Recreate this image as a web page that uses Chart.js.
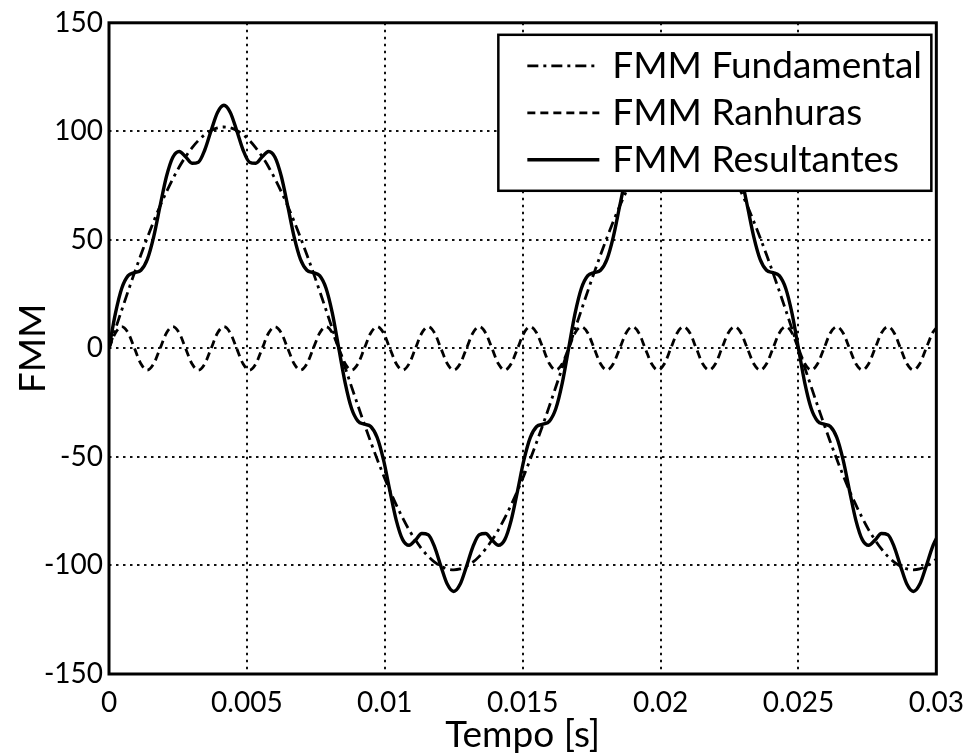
<!DOCTYPE html>
<html>
<head>
<meta charset="utf-8">
<title>FMM</title>
<script src="https://cdn.jsdelivr.net/npm/chart.js@4.4.1/dist/chart.umd.min.js"></script>
<style>
  html, body { margin: 0; padding: 0; background: #fff; }
  #wrap { width: 976px; height: 754px; }
</style>
</head>
<body>
<div id="wrap"><canvas id="fmmChart" width="976" height="754"></canvas></div>
<script>
// tempo [s]
const tempo = [
  0, 0.000231, 0.000463, 0.000694, 0.000926, 0.001157, 0.001389, 0.00162, 0.001852, 0.002083,
  0.002315, 0.002546, 0.002778, 0.003009, 0.003241, 0.003472, 0.003704, 0.003935, 0.004167, 0.004398,
  0.00463, 0.004861, 0.005093, 0.005324, 0.005556, 0.005787, 0.006019, 0.00625, 0.006481, 0.006713,
  0.006944, 0.007176, 0.007407, 0.007639, 0.00787, 0.008102, 0.008333, 0.008565, 0.008796, 0.009028,
  0.009259, 0.009491, 0.009722, 0.009954, 0.010185, 0.010417, 0.010648, 0.01088, 0.011111, 0.011343,
  0.011574, 0.011806, 0.012037, 0.012269, 0.0125, 0.012731, 0.012963, 0.013194, 0.013426, 0.013657,
  0.013889, 0.01412, 0.014352, 0.014583, 0.014815, 0.015046, 0.015278, 0.015509, 0.015741, 0.015972,
  0.016204, 0.016435, 0.016667, 0.016898, 0.01713, 0.017361, 0.017593, 0.017824, 0.018056, 0.018287,
  0.018519, 0.01875, 0.018981, 0.019213, 0.019444, 0.019676, 0.019907, 0.020139, 0.02037, 0.020602,
  0.020833, 0.021065, 0.021296, 0.021528, 0.021759, 0.021991, 0.022222, 0.022454, 0.022685, 0.022917,
  0.023148, 0.02338, 0.023611, 0.023843, 0.024074, 0.024306, 0.024537, 0.024769, 0.025, 0.025231,
  0.025463, 0.025694, 0.025926, 0.026157, 0.026389, 0.02662, 0.026852, 0.027083, 0.027315, 0.027546,
  0.027778, 0.028009, 0.028241, 0.028472, 0.028704, 0.028935, 0.029167, 0.029398, 0.02963, 0.029861,
  0.03
];

// FMM fundamental (60 Hz)
const fmmFundamental = [
  0, 8.9, 17.7, 26.4, 34.9, 43.1, 51.0, 58.5, 65.6, 72.1,
  78.1, 83.6, 88.3, 92.4, 95.8, 98.5, 100.4, 101.6, 102.0, 101.6,
  100.4, 98.5, 95.8, 92.4, 88.3, 83.6, 78.1, 72.1, 65.6, 58.5,
  51.0, 43.1, 34.9, 26.4, 17.7, 8.9, 0, -8.9, -17.7, -26.4,
  -34.9, -43.1, -51.0, -58.5, -65.6, -72.1, -78.1, -83.6, -88.3, -92.4,
  -95.8, -98.5, -100.4, -101.6, -102.0, -101.6, -100.4, -98.5, -95.8, -92.4,
  -88.3, -83.6, -78.1, -72.1, -65.6, -58.5, -51.0, -43.1, -34.9, -26.4,
  -17.7, -8.9, 0, 8.9, 17.7, 26.4, 34.9, 43.1, 51.0, 58.5,
  65.6, 72.1, 78.1, 83.6, 88.3, 92.4, 95.8, 98.5, 100.4, 101.6,
  102.0, 101.6, 100.4, 98.5, 95.8, 92.4, 88.3, 83.6, 78.1, 72.1,
  65.6, 58.5, 51.0, 43.1, 34.9, 26.4, 17.7, 8.9, 0, -8.9,
  -17.7, -26.4, -34.9, -43.1, -51.0, -58.5, -65.6, -72.1, -78.1, -83.6,
  -88.3, -92.4, -95.8, -98.5, -100.4, -101.6, -102.0, -101.6, -100.4, -98.5,
  -97.0
];

// FMM das ranhuras
const fmmRanhuras = [
  0, 7.1, 10, 7.1, 0, -7.1, -10, -7.1, 0, 7.1,
  10, 7.1, 0, -7.1, -10, -7.1, 0, 7.1, 10, 7.1,
  0, -7.1, -10, -7.1, 0, 7.1, 10, 7.1, 0, -7.1,
  -10, -7.1, 0, 7.1, 10, 7.1, 0, -7.1, -10, -7.1,
  0, 7.1, 10, 7.1, 0, -7.1, -10, -7.1, 0, 7.1,
  10, 7.1, 0, -7.1, -10, -7.1, 0, 7.1, 10, 7.1,
  0, -7.1, -10, -7.1, 0, 7.1, 10, 7.1, 0, -7.1,
  -10, -7.1, 0, 7.1, 10, 7.1, 0, -7.1, -10, -7.1,
  0, 7.1, 10, 7.1, 0, -7.1, -10, -7.1, 0, 7.1,
  10, 7.1, 0, -7.1, -10, -7.1, 0, 7.1, 10, 7.1,
  0, -7.1, -10, -7.1, 0, 7.1, 10, 7.1, 0, -7.1,
  -10, -7.1, 0, 7.1, 10, 7.1, 0, -7.1, -10, -7.1,
  0, 7.1, 10, 7.1, 0, -7.1, -10, -7.1, 0, 7.1,
  9.5
];

// FMM resultante
const fmmResultante = [
  0, 16.0, 27.7, 33.5, 34.9, 36.0, 41.0, 51.4, 65.6, 79.2,
  88.1, 90.7, 88.3, 85.3, 85.8, 91.4, 100.4, 108.7, 112.0, 108.7,
  100.4, 91.4, 85.8, 85.3, 88.3, 90.7, 88.1, 79.2, 65.6, 51.4,
  41.0, 36.0, 34.9, 33.5, 27.7, 16.0, 0, -16.0, -27.7, -33.5,
  -34.9, -36.0, -41.0, -51.4, -65.6, -79.2, -88.1, -90.7, -88.3, -85.3,
  -85.8, -91.4, -100.4, -108.7, -112.0, -108.7, -100.4, -91.4, -85.8, -85.3,
  -88.3, -90.7, -88.1, -79.2, -65.6, -51.4, -41.0, -36.0, -34.9, -33.5,
  -27.7, -16.0, 0, 16.0, 27.7, 33.5, 34.9, 36.0, 41.0, 51.4,
  65.6, 79.2, 88.1, 90.7, 88.3, 85.3, 85.8, 91.4, 100.4, 108.7,
  112.0, 108.7, 100.4, 91.4, 85.8, 85.3, 88.3, 90.7, 88.1, 79.2,
  65.6, 51.4, 41.0, 36.0, 34.9, 33.5, 27.7, 16.0, 0, -16.0,
  -27.7, -33.5, -34.9, -36.0, -41.0, -51.4, -65.6, -79.2, -88.1, -90.7,
  -88.3, -85.3, -85.8, -91.4, -100.4, -108.7, -112.0, -108.7, -100.4, -91.4,
  -87.5
];

// eixos
const xTicks = [0, 0.005, 0.01, 0.015, 0.02, 0.025, 0.03];
const xTickLabels = ['0', '0.005', '0.01', '0.015', '0.02', '0.025', '0.03'];
const yTicks = [-150, -100, -50, 0, 50, 100, 150];
const yTickLabels = ['-150', '-100', '-50', '0', '50', '100', '150'];

const seriesNames = ['FMM Fundamental', 'FMM Ranhuras', 'FMM Resultantes'];

const toPoints = (ys) => ys.map((y, i) => ({ x: tempo[i], y: y }));

Chart.defaults.font.family = 'Lato';
Chart.defaults.color = '#000';

// moldura preta em volta da área do gráfico
const frame = {
  id: 'frame',
  afterDatasetsDraw(chart) {
    const { ctx, chartArea: a } = chart;
    ctx.save();
    ctx.strokeStyle = '#000';
    ctx.lineWidth = 3;
    ctx.strokeRect(a.left, a.top, a.right - a.left, a.bottom - a.top);
    ctx.restore();
  }
};

// legenda com fundo branco dentro do gráfico
const boxLegend = {
  id: 'boxLegend',
  afterDraw(chart) {
    const { ctx, chartArea: a } = chart;
    const x0 = a.right - 438, y0 = a.top + 12, w = 433, h = 156;
    ctx.save();
    ctx.fillStyle = '#fff';
    ctx.fillRect(x0, y0, w, h);
    ctx.strokeStyle = '#000';
    ctx.lineWidth = 2.5;
    ctx.strokeRect(x0, y0, w, h);
    ctx.font = '37px Lato';
    ctx.textBaseline = 'middle';
    chart.data.datasets.forEach((ds, i) => {
      const y = y0 + 31 + i * 47;
      ctx.beginPath();
      ctx.setLineDash(ds.borderDash || []);
      ctx.lineWidth = ds.borderWidth;
      ctx.moveTo(x0 + 29, y);
      ctx.lineTo(x0 + 101, y);
      ctx.stroke();
      ctx.setLineDash([]);
      ctx.fillStyle = '#000';
      ctx.fillText(ds.label, x0 + 114, y);
    });
    ctx.restore();
  }
};

const data = {
  datasets: [
    {
      label: seriesNames[0],
      data: toPoints(fmmFundamental),
      borderColor: '#000',
      borderWidth: 2.8,
      borderDash: [11, 5, 3, 5],
    },
    {
      label: seriesNames[1],
      data: toPoints(fmmRanhuras),
      borderColor: '#000',
      borderWidth: 2.8,
      borderDash: [8, 5],
    },
    {
      label: seriesNames[2],
      data: toPoints(fmmResultante),
      borderColor: '#000',
      borderWidth: 3.4,
    },
  ],
};

const config = {
  type: 'line',
  data: data,
  options: {
    responsive: false,
    animation: false,
    devicePixelRatio: 1,
    cubicInterpolationMode: 'monotone',
    pointRadius: 0,
    layout: { padding: { top: 20, right: 34, left: 0, bottom: 0 } },
    scales: {
      x: {
        type: 'linear',
        min: 0,
        max: 0.03,
        afterBuildTicks: (s) => { s.ticks = xTicks.map(v => ({ value: v })); },
        afterFit: (s) => { s.height = 80; },
        ticks: {
          font: { size: 28 },
          padding: 12,
          maxRotation: 0,
          callback: (v, i) => xTickLabels[i],
        },
        grid: { color: '#111', lineWidth: 2, drawTicks: false },
        border: { display: false, dash: [2.5, 4.5] },
        title: {
          display: true,
          text: 'Tempo [s]',
          font: { size: 37, lineHeight: 1 },
          padding: { top: 0, bottom: 0 },
        },
      },
      y: {
        min: -150,
        max: 150,
        afterBuildTicks: (s) => { s.ticks = yTicks.map(v => ({ value: v })); },
        afterFit: (s) => { s.width = 109; },
        ticks: {
          font: { size: 28 },
          padding: 6,
          callback: (v, i) => yTickLabels[i],
        },
        grid: { color: '#111', lineWidth: 2, drawTicks: false },
        border: { display: false, dash: [2.5, 4.5] },
        title: {
          display: true,
          text: 'FMM',
          font: { size: 37, lineHeight: 1 },
          padding: { top: 15, bottom: 0 },
        },
      },
    },
    plugins: {
      legend: { display: false },
      tooltip: { enabled: false },
    },
  },
  plugins: [frame, boxLegend],
};

const fmmChart = new Chart(document.getElementById('fmmChart'), config);
</script>
</body>
</html>
